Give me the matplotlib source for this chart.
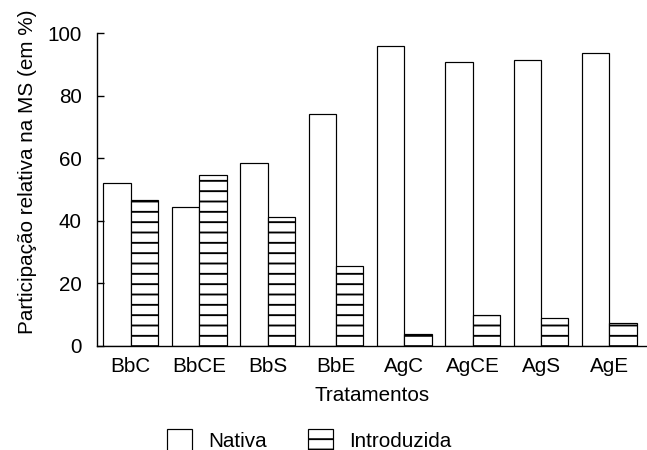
import matplotlib
matplotlib.use("Agg")
import matplotlib.pyplot as plt
import numpy as np

# Tratamentos e participacao relativa na MS (em %)
tratamentos = ['BbC', 'BbCE', 'BbS', 'BbE', 'AgC', 'AgCE', 'AgS', 'AgE']
nativa = [52.2, 44.5, 58.6, 74.2, 96.1, 90.8, 91.6, 93.7]
introduzida = [46.8, 54.6, 41.1, 25.6, 3.8, 9.9, 8.8, 7.2]

x_pos = np.arange(len(tratamentos))
largura = 0.4

plt.rcParams['font.family'] = ['Liberation Sans', 'DejaVu Sans']
plt.rcParams['font.size'] = 12
plt.rcParams['hatch.linewidth'] = 1.1
plt.rcParams['hatch.color'] = 'black'

dpi = 124
fig = plt.figure(figsize=(647 / dpi, 450 / dpi), dpi=dpi)
ax = fig.add_axes([0.1504, 0.2318, 0.8496, 0.6938])

ax.bar(x_pos - largura / 2, nativa, width=largura, color='white',
       edgecolor='black', linewidth=0.7, label='Nativa')
ax.bar(x_pos + largura / 2, introduzida, width=largura, color='white',
       edgecolor='black', linewidth=0.7, hatch='--', label='Introduzida')

ax.set_xlim(-0.49, 7.55)
ax.set_ylim(0, 100)
ax.set_yticks([0, 20, 40, 60, 80, 100])
ax.set_xticks(x_pos)
ax.set_xticklabels(tratamentos)

ax.spines['top'].set_visible(False)
ax.spines['right'].set_visible(False)
ax.spines['left'].set_linewidth(0.8)
ax.spines['bottom'].set_linewidth(0.8)
ax.tick_params(axis='y', direction='in', length=4.3, width=0.8, pad=9.1)
ax.tick_params(axis='x', length=0, pad=6.4)

ax.set_xlabel('Tratamentos', labelpad=5.8)
ax.set_ylabel('Participação relativa na MS (em %)')
ax.yaxis.set_label_coords(-0.11, 0.556)

fig.legend(loc='upper left', bbox_to_anchor=(0.2586, 0.046), ncol=2,
           frameon=False, borderpad=0, borderaxespad=0,
           handlelength=1.21, handleheight=1.25, handletextpad=0.77,
           columnspacing=1.98)

fig.savefig('out.png', dpi=dpi)
